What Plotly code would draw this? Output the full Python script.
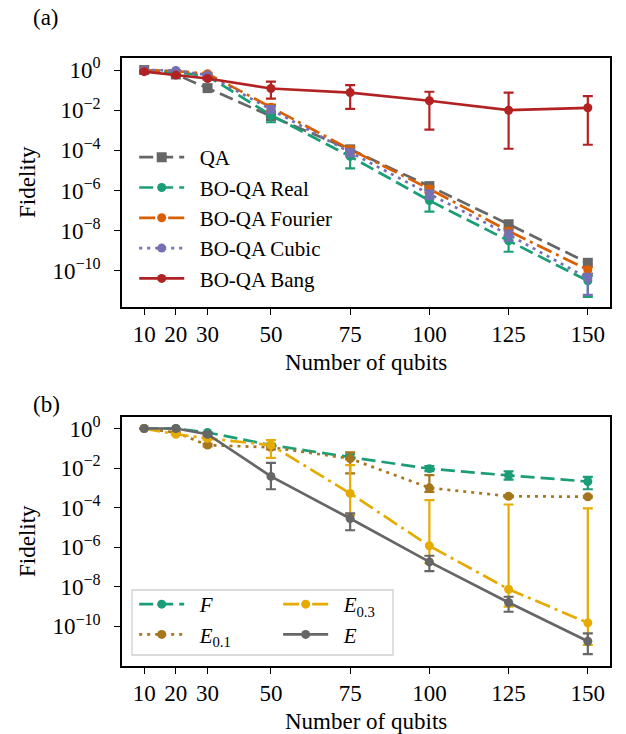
import numpy as np
import plotly.graph_objects as go

qubits = [10, 20, 30, 50, 75, 100, 125, 150]

# ---- panel (a): log10 of fidelity (mean, lower, upper) ----
qa_mean = [0.0, -0.22, -0.90, -2.30, -3.95, -5.78, -7.68, -9.60]

real_mean = [0.0, -0.10, -0.30, -2.25, -4.30, -6.50, -8.50, -10.50]
real_low = [0.0, -0.12, -0.34, -2.60, -4.90, -7.05, -9.05, -11.30]
real_high = [0.0, -0.08, -0.26, -2.10, -4.12, -6.30, -8.30, -10.25]

fourier_mean = [0.0, -0.05, -0.18, -1.85, -3.95, -5.92, -8.02, -9.95]
fourier_low = [0.0, -0.06, -0.22, -2.05, -4.15, -6.10, -8.20, -10.15]
fourier_high = [0.0, -0.04, -0.14, -1.72, -3.82, -5.80, -7.90, -9.82]

cubic_mean = [0.0, -0.02, -0.25, -1.95, -4.10, -6.17, -8.20, -10.37]
cubic_low = [0.0, -0.03, -0.30, -2.12, -4.30, -6.40, -8.50, -11.20]
cubic_high = [0.0, -0.01, -0.20, -1.80, -3.95, -6.00, -8.00, -10.15]

bang_mean = [-0.08, -0.25, -0.42, -0.92, -1.12, -1.53, -2.00, -1.88]
bang_low = [-0.10, -0.28, -0.46, -1.42, -1.93, -2.97, -3.92, -3.72]
bang_high = [-0.06, -0.22, -0.39, -0.58, -0.75, -1.08, -1.12, -1.30]

# ---- panel (b) ----
f_mean = [0.0, 0.0, -0.20, -0.84, -1.45, -2.03, -2.37, -2.68]
f_low = [0.0, 0.0, -0.22, -0.90, -1.55, -2.15, -2.58, -3.07]
f_high = [0.0, 0.0, -0.18, -0.78, -1.30, -1.90, -2.16, -2.44]

e01_mean = [0.0, -0.20, -0.84, -0.95, -1.52, -3.00, -3.42, -3.45]
e01_low = [0.0, -0.22, -0.90, -1.05, -2.27, -3.20, -3.48, -3.50]
e01_high = [0.0, -0.18, -0.78, -0.85, -1.21, -2.36, -3.38, -3.40]

e03_mean = [0.0, -0.29, -0.50, -0.84, -3.28, -5.93, -8.12, -9.82]
e03_low = [0.0, -0.31, -0.55, -1.48, -4.38, -6.80, -9.00, -10.94]
e03_high = [0.0, -0.27, -0.45, -0.59, -1.85, -3.62, -3.84, -4.04]

e_mean = [0.0, 0.0, -0.29, -2.42, -4.55, -6.74, -8.79, -10.75]
e_low = [0.0, 0.0, -0.35, -3.07, -5.14, -7.21, -9.26, -11.40]
e_high = [0.0, 0.0, -0.23, -1.74, -4.29, -6.43, -8.50, -10.35]

ytick_exp = [0, -2, -4, -6, -8, -10]

FONT = "Liberation Serif"
FS = 23
LFS = 21
LW = 2.7
GAP = "\u2002"


def series(name, mean, low, high, color, dash, symbol, xa, ya, legend, msize=9):
    m = 10 ** np.array(mean)
    kw = {}
    if low is not None:
        lo = 10 ** np.array(low)
        hi = 10 ** np.array(high)
        kw["error_y"] = dict(type="data", symmetric=False, array=hi - m,
                             arrayminus=m - lo, color=color, thickness=2.2, width=5)
    return go.Scatter(x=qubits, y=m, name=GAP + name, mode="lines+markers",
                      line=dict(color=color, width=LW, dash=dash),
                      marker=dict(color=color, size=msize, symbol=symbol),
                      xaxis=xa, yaxis=ya, legend=legend, **kw)


DASH = "14px,6px"
DOT = "3px,5px"
DASHDOT = "16px,5px,3px,5px"

gray = "#666666"
teal = "#1b9e77"
orange = "#d95f02"
purple = "#7570b3"
red = "#b22222"
brown = "#a6761d"
yellow = "#e6ab02"

fig = go.Figure()
fig.add_trace(series("QA", qa_mean, None, None, gray, DASH, "square", "x", "y", "legend", 10))
fig.add_trace(series("BO-QA Real", real_mean, real_low, real_high, teal, DASH, "circle", "x", "y", "legend"))
fig.add_trace(series("BO-QA Fourier", fourier_mean, fourier_low, fourier_high, orange, DASHDOT, "circle", "x", "y", "legend"))
fig.add_trace(series("BO-QA Cubic", cubic_mean, cubic_low, cubic_high, purple, DOT, "circle", "x", "y", "legend"))
fig.add_trace(series("BO-QA Bang", bang_mean, bang_low, bang_high, red, "solid", "circle", "x", "y", "legend"))

fig.add_trace(series("<i>F</i>", f_mean, f_low, f_high, teal, DASH, "circle", "x2", "y2", "legend2"))
fig.add_trace(series("<i>E</i><sub>0.1</sub>", e01_mean, e01_low, e01_high, brown, DOT, "circle", "x2", "y2", "legend2"))
fig.add_trace(series("<i>E</i><sub>0.3</sub>", e03_mean, e03_low, e03_high, yellow, DASHDOT, "circle", "x2", "y2", "legend3"))
fig.add_trace(series("<i>E</i>", e_mean, e_low, e_high, gray, "solid", "circle", "x2", "y2", "legend3"))

axis_common = dict(showline=True, mirror=True, linecolor="black", linewidth=1.5,
                   ticks="outside", ticklen=6, tickwidth=1.3, tickcolor="black",
                   showgrid=False, zeroline=False,
                   tickfont=dict(family=FONT, size=FS, color="black"))
xt = dict(tickvals=qubits, ticktext=[str(q) for q in qubits], range=[3, 157])
yt = dict(type="log", tickvals=[10.0 ** e for e in ytick_exp], ticklabelstandoff=9,
          ticktext=["10<sup>%s</sup>" % (str(e).replace("-", "\u2212")) for e in ytick_exp])

legend_common = dict(bgcolor="rgba(0,0,0,0)", borderwidth=0, xanchor="left", yanchor="top",
                     font=dict(family=FONT, size=LFS, color="black"), itemwidth=45,
                     tracegroupgap=0)

fig.update_layout(
    width=626, height=734,
    margin=dict(l=122, r=16, t=58, b=68),
    paper_bgcolor="white", plot_bgcolor="white",
    font=dict(family=FONT, size=FS, color="black"),
    xaxis=dict(domain=[0, 1], anchor="y", **xt, **axis_common),
    yaxis=dict(domain=[0.5905, 1], anchor="x", range=[-11.8, 0.6], **yt, **axis_common),
    xaxis2=dict(domain=[0, 1], anchor="y2", **xt, **axis_common),
    yaxis2=dict(domain=[0, 0.4095], anchor="x2", range=[-12.0, 0.58], **yt, **axis_common),
    legend=dict(x=0.025, y=0.870, **legend_common),
    legend2=dict(x=0.025, y=0.1349, **legend_common),
    legend3=dict(x=0.32, y=0.1349, **legend_common),
    showlegend=True,
    shapes=[dict(type="rect", xref="paper", yref="paper", x0=0.0205, x1=0.5553,
                 y0=0.0181, y1=0.125, line=dict(color="#d0d0d0", width=1.3),
                 fillcolor="rgba(255,255,255,0.8)", layer="above")],
    annotations=[
        dict(text="(a)", x=(46 - 122) / 488, y=(666 - 17) / 608, xref="paper", yref="paper",
             showarrow=False, xanchor="center", yanchor="middle"),
        dict(text="(b)", x=(46 - 122) / 488, y=(666 - 404) / 608, xref="paper", yref="paper",
             showarrow=False, xanchor="center", yanchor="middle"),
        dict(text="Fidelity", x=(27 - 122) / 488, y=(666 - 182) / 608, xref="paper", yref="paper",
             showarrow=False, textangle=-90, xanchor="center", yanchor="middle"),
        dict(text="Fidelity", x=(27 - 122) / 488, y=(666 - 541) / 608, xref="paper", yref="paper",
             showarrow=False, textangle=-90, xanchor="center", yanchor="middle"),
        dict(text="Number of qubits", x=0.5, y=(666 - 362) / 608, xref="paper", yref="paper",
             showarrow=False, xanchor="center", yanchor="middle"),
        dict(text="Number of qubits", x=0.5, y=(666 - 721) / 608, xref="paper", yref="paper",
             showarrow=False, xanchor="center", yanchor="middle"),
    ],
)

fig.write_html("out.html")
